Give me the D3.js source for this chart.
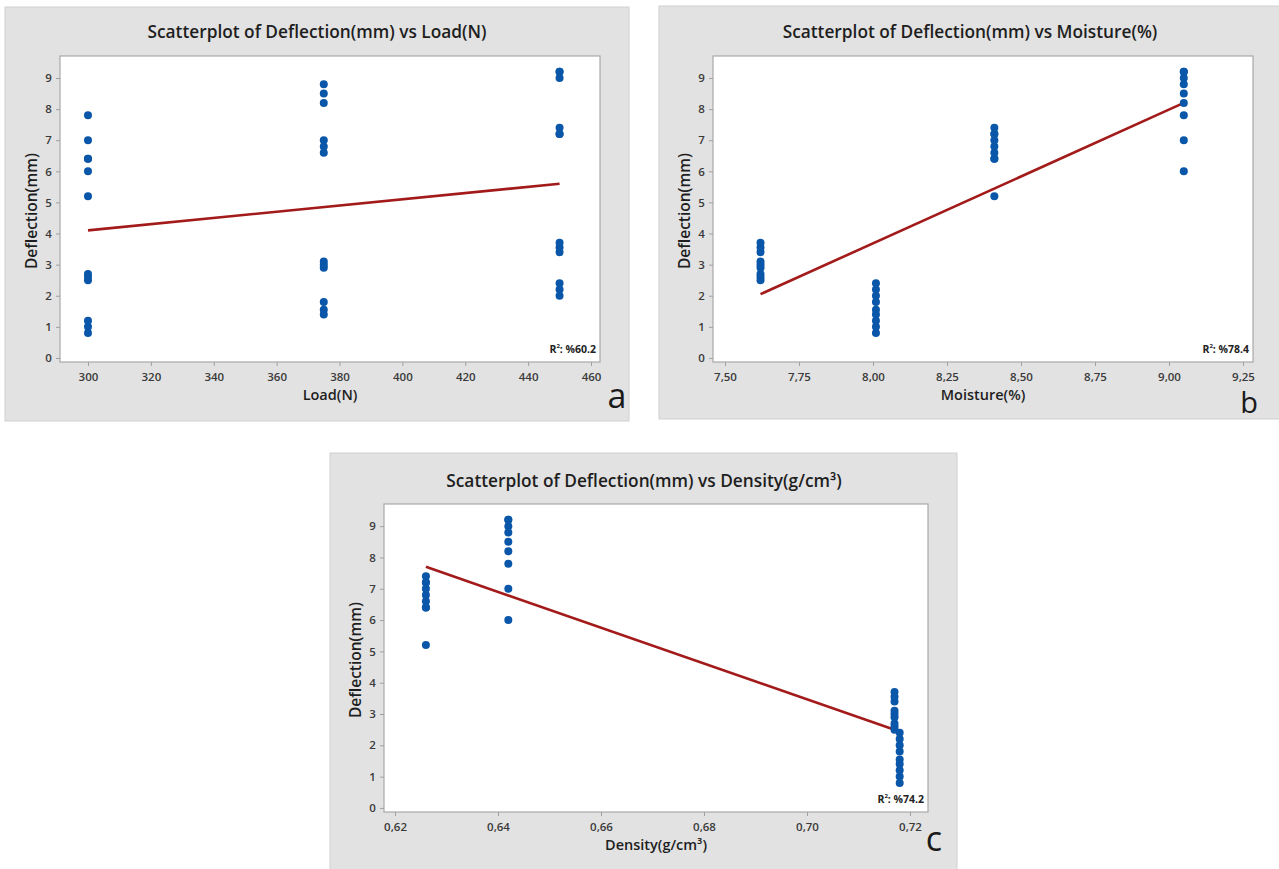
<!DOCTYPE html>
<html>
<head>
<meta charset="utf-8">
<script src="https://cdn.jsdelivr.net/npm/d3@7/dist/d3.min.js"></script>
<style>
  html, body { margin: 0; padding: 0; background: #ffffff; }
  svg { display: block; }
  text { font-family: "Open Sans", "Noto Sans", sans-serif; }
</style>
</head>
<body>
<svg id="chart" width="1279" height="869"></svg>
<script>
// ---- Data ----
const loadN       = [300,300,300, 375,375,375, 450,450,450,
                     300,300,300, 375,375,375, 450,450,450,
                     300,300,300, 375,375,375, 450,450,450,
                     300,300,300, 375,375,375, 450,450,450];
const moisturePct = [7.62,7.62,7.62, 7.62,7.62,7.62, 7.62,7.62,7.62,
                     8.01,8.01,8.01, 8.01,8.01,8.01, 8.01,8.01,8.01,
                     8.41,8.41,8.41, 8.41,8.41,8.41, 8.41,8.41,8.41,
                     9.05,9.05,9.05, 9.05,9.05,9.05, 9.05,9.05,9.05];
const densityGcm3 = [0.717,0.717,0.717, 0.717,0.717,0.717, 0.717,0.717,0.717,
                     0.718,0.718,0.718, 0.718,0.718,0.718, 0.718,0.718,0.718,
                     0.626,0.626,0.626, 0.626,0.626,0.626, 0.626,0.626,0.626,
                     0.642,0.642,0.642, 0.642,0.642,0.642, 0.642,0.642,0.642];
const deflectionMm = [2.5,2.6,2.7, 2.9,3.0,3.1, 3.4,3.55,3.7,
                      0.8,1.0,1.2, 1.4,1.55,1.8, 2.0,2.2,2.4,
                      5.2,6.4,6.4, 6.6,6.8,7.0, 7.2,7.4,7.2,
                      6.0,7.0,7.8, 8.2,8.5,8.8, 9.0,9.2,9.2];

const deflectionTicks = [0,1,2,3,4,5,6,7,8,9];
const loadTicks       = [300,320,340,360,380,400,420,440,460];
const moistureTicks   = [7.50,7.75,8.00,8.25,8.50,8.75,9.00,9.25];
const densityTicks    = [0.62,0.64,0.66,0.68,0.70,0.72];

// fitted regression lines (end points)
const fitLoadX = [300, 450],      fitLoadY = [4.1, 5.6];
const fitMoistX = [7.62, 9.05],   fitMoistY = [2.05, 8.2];
const fitDensX = [0.626, 0.717],  fitDensY = [7.7, 2.5];

const r2Values = ["%60.2", "%78.4", "%74.2"];
const panelLetters = ["a", "b", "c"];

// ---- Drawing ----
const svg = d3.select("#chart");
const comma = d3.formatLocale({decimal: ",", thousands: ".", grouping: [3], currency: ["", ""]});

function drawPanel(cfg) {
  const g = svg.append("g");
  // gray background box
  g.append("rect")
    .attr("x", cfg.box[0]).attr("y", cfg.box[1])
    .attr("width", cfg.box[2]).attr("height", cfg.box[3])
    .attr("fill", "#e2e2e2").attr("stroke", "#d0d0d0").attr("stroke-width", 1);

  const x = d3.scaleLinear().domain(cfg.xDomain).range([cfg.plot[0], cfg.plot[1]]);
  const y = d3.scaleLinear().domain([-0.13, 9.707]).range([cfg.plot[3], cfg.plot[2]]);

  // plot area
  g.append("rect")
    .attr("x", cfg.plot[0]).attr("y", cfg.plot[2])
    .attr("width", cfg.plot[1] - cfg.plot[0]).attr("height", cfg.plot[3] - cfg.plot[2])
    .attr("fill", "#ffffff").attr("stroke", "#a8a8a8").attr("stroke-width", 1.2);

  // axes
  const xAxis = d3.axisBottom(x).tickValues(cfg.xTicks).tickSize(4).tickSizeOuter(0)
    .tickFormat(cfg.xFormat);
  const yAxis = d3.axisLeft(y).tickValues(deflectionTicks).tickSize(4).tickSizeOuter(0)
    .tickFormat(d3.format("d"));

  const gx = g.append("g").attr("transform", `translate(0,${cfg.plot[3]})`).call(xAxis);
  const gy = g.append("g").attr("transform", `translate(${cfg.plot[0]},0)`).call(yAxis);
  [gx, gy].forEach(a => {
    a.select(".domain").remove();
    a.selectAll(".tick line").attr("stroke", "#a0a0a0");
    a.selectAll(".tick text").attr("fill", "#3a3a3a").attr("font-size", 11.5)
      .attr("font-weight", 600).style("font-family", "'Open Sans', sans-serif");
  });
  gx.selectAll(".tick text").attr("dy", "1.0em");
  gy.selectAll(".tick text").attr("dx", "-0.1em");

  // fit line
  const fitPts = cfg.fitX.map((v, i) => [v, cfg.fitY[i]]);
  g.append("path")
    .datum(fitPts)
    .attr("d", d3.line().x(d => x(d[0])).y(d => y(d[1])))
    .attr("fill", "none").attr("stroke", "#a31a1a").attr("stroke-width", 2.6);

  // points
  g.append("g").selectAll("circle")
    .data(cfg.xs.map((v, i) => [v, deflectionMm[i]]))
    .join("circle")
    .attr("cx", d => x(d[0])).attr("cy", d => y(d[1])).attr("r", 4)
    .attr("fill", "#0a56a8");

  // title
  g.append("text")
    .attr("x", cfg.titleX).attr("y", cfg.titleY)
    .attr("text-anchor", "middle").attr("font-size", 17.3).attr("font-weight", 600)
    .attr("fill", "#1e1e1e")
    .text(cfg.title);

  // axis labels
  g.append("text")
    .attr("x", (cfg.plot[0] + cfg.plot[1]) / 2).attr("y", cfg.plot[3] + 38)
    .attr("text-anchor", "middle").attr("font-size", 14.5).attr("font-weight", 600)
    .attr("fill", "#1e1e1e")
    .text(cfg.xLabel);
  g.append("text")
    .attr("transform", `translate(${cfg.plot[0] - 23},${(cfg.plot[2] + cfg.plot[3]) / 2 + 2}) rotate(-90)`)
    .attr("text-anchor", "middle").attr("font-size", 15.5).attr("font-weight", 600)
    .attr("fill", "#1e1e1e")
    .text("Deflection(mm)");

  // R² annotation
  const r2 = g.append("text")
    .attr("x", cfg.plot[1] - 4).attr("y", cfg.plot[3] - 9)
    .attr("text-anchor", "end").attr("font-size", 10.5).attr("font-weight", 700)
    .attr("fill", "#222");
  r2.append("tspan").text("R");
  r2.append("tspan").attr("dy", -5).attr("font-size", 6).text("2");
  r2.append("tspan").attr("dy", 5).text(": " + cfg.r2);

  // panel letter
  g.append("text")
    .attr("x", cfg.letterX).attr("y", cfg.letterY)
    .attr("text-anchor", "middle").attr("font-size", cfg.letterSize).attr("font-weight", 400)
    .attr("fill", "#1a1a1a").style("font-family", "'Open Sans', sans-serif")
    .text(cfg.letter);
}

drawPanel({
  box: [5, 7, 624, 414],
  plot: [60, 600, 56, 362],
  xDomain: [291.1, 462.86],
  xTicks: loadTicks,
  xFormat: d3.format("d"),
  xs: loadN,
  fitX: fitLoadX, fitY: fitLoadY,
  title: "Scatterplot of Deflection(mm) vs Load(N)",
  titleX: 317, titleY: 38,
  xLabel: "Load(N)",
  r2: r2Values[0],
  letter: panelLetters[0], letterX: 617, letterY: 408, letterSize: 34
});

drawPanel({
  box: [659, 6, 625, 413],
  plot: [713, 1253, 56, 362],
  xDomain: [7.4595, 9.2838],
  xTicks: moistureTicks,
  xFormat: comma.format(".2f"),
  xs: moisturePct,
  fitX: fitMoistX, fitY: fitMoistY,
  title: "Scatterplot of Deflection(mm) vs Moisture(%)",
  titleX: 970, titleY: 38,
  xLabel: "Moisture(%)",
  r2: r2Values[1],
  letter: panelLetters[1], letterX: 1249, letterY: 413, letterSize: 29
});

drawPanel({
  box: [330, 453, 627, 420],
  plot: [384, 928, 504, 812],
  xDomain: [0.61786, 0.7235],
  xTicks: densityTicks,
  xFormat: comma.format(".2f"),
  xs: densityGcm3,
  fitX: fitDensX, fitY: fitDensY,
  title: "Scatterplot of Deflection(mm) vs Density(g/cm³)",
  titleX: 644, titleY: 487,
  xLabel: "Density(g/cm³)",
  r2: r2Values[2],
  letter: panelLetters[2], letterX: 934, letterY: 851, letterSize: 34
});
</script>
</body>
</html>
